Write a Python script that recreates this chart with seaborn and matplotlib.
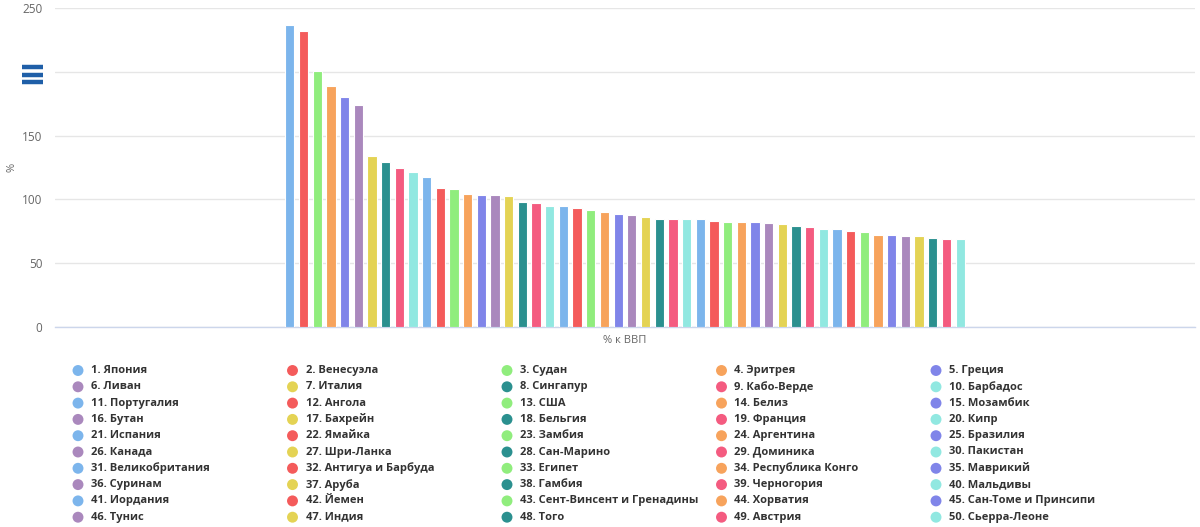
import matplotlib
matplotlib.use("Agg")
import matplotlib.pyplot as plt
import seaborn as sns
from matplotlib.patches import Rectangle


countries = ["Япония", "Венесуэла", "Судан", "Эритрея", "Греция",
             "Ливан", "Италия", "Сингапур", "Кабо-Верде", "Барбадос",
             "Португалия", "Ангола", "США", "Белиз", "Мозамбик",
             "Бутан", "Бахрейн", "Бельгия", "Франция", "Кипр",
             "Испания", "Ямайка", "Замбия", "Аргентина", "Бразилия",
             "Канада", "Шри-Ланка", "Сан-Марино", "Доминика", "Пакистан",
             "Великобритания", "Антигуа и Барбуда", "Египет", "Республика Конго", "Маврикий",
             "Суринам", "Аруба", "Гамбия", "Черногория", "Мальдивы",
             "Иордания", "Йемен", "Сент-Винсент и Гренадины", "Хорватия", "Сан-Томе и Принсипи",
             "Тунис", "Индия", "Того", "Австрия", "Сьерра-Леоне"]

debt = [237.0, 232.3, 200.6, 188.5, 179.9, 173.6, 134.2, 129.5, 124.3, 121.4,
        117.2, 108.8, 108.0, 104.4, 103.6, 103.6, 102.8, 97.8, 97.3, 94.9,
        94.9, 93.1, 91.5, 89.8, 88.5, 87.6, 86.1, 84.7, 84.7, 84.7,
        84.7, 83.4, 82.6, 82.6, 82.1, 81.3, 80.5, 78.9, 78.4, 76.8,
        76.8, 75.5, 74.2, 71.8, 71.8, 71.1, 71.1, 69.7, 68.9, 68.9]

palette10 = ["#7cb5ec", "#f45b5b", "#90ed7d", "#f7a35c", "#8085e9",
             "#aa88bd", "#e4d354", "#2b908f", "#f45b80", "#91e8e1"]

category = "% к ВВП"
y_ticks = [0, 50, 100, 150, 200, 250]

labels = [f"{i + 1}. {c}" for i, c in enumerate(countries)]
colors = [palette10[i % 10] for i in range(len(labels))]

sns.set_style("white")
plt.rcParams['font.family'] = ['Open Sans', 'DejaVu Sans']

W, H = 1200, 527
fig = plt.figure(figsize=(12, 5.27), dpi=100)
ax = fig.add_axes([55 / W, 1 - 327 / H, 1140 / W, 319 / H])

sns.barplot(x=labels, y=debt, hue=labels, palette=colors, dodge=False,
            legend=False, saturation=1, width=0.68, edgecolor="white",
            linewidth=0.8, ax=ax, zorder=3)

n = len(labels)
half = n / 0.6 / 2
ax.set_xlim((n - 1) / 2 - half, (n - 1) / 2 + half)
ax.set_ylim(0, 250)
ax.set_xticks([(n - 1) / 2])
ax.set_xticklabels([category], color="#666666", fontsize=8)
ax.set_yticks(y_ticks)
ax.set_yticklabels([str(t) for t in y_ticks], color="#666666", fontsize=8.5)
ax.tick_params(axis="both", length=0)
ax.tick_params(axis="y", pad=9)
ax.tick_params(axis="x", pad=6)
ax.grid(axis="y", color="#e6e6e6", linewidth=1, zorder=0)
ax.grid(axis="x", visible=False)
for s in ["top", "right", "left"]:
    ax.spines[s].set_visible(False)
ax.spines["bottom"].set_color("#ccd6eb")
ax.spines["bottom"].set_linewidth(1)
ax.set_xlabel("")
ax.set_ylabel("%", color="#666666", fontsize=8)
ax.yaxis.set_label_coords(-0.033, 0.5)

# menu icon over the y labels
icon = fig.add_axes([0, 0, 1, 1], facecolor="none")
icon.set_xlim(0, W)
icon.set_ylim(H, 0)
icon.axis("off")
icon.add_patch(Rectangle((18, 62), 30, 26, color="white", zorder=1))
for yy in [67, 74.5, 82]:
    icon.plot([22, 43], [yy, yy], color="#1f5fa8", linewidth=3.2,
              solid_capstyle="butt", zorder=2)

# legend, 5 columns filled row by row
for i, (lab, col) in enumerate(zip(labels, colors)):
    r, c = divmod(i, 5)
    x0 = 78 + c * 214.5
    y0 = 370.5 + r * 16.3
    icon.scatter([x0], [y0], s=62, color=col, edgecolor="none", zorder=3)
    icon.text(x0 + 13, y0, lab, fontsize=8, fontweight="bold", color="#333333",
              va="center", ha="left")

plt.savefig("out.png", dpi=100)
